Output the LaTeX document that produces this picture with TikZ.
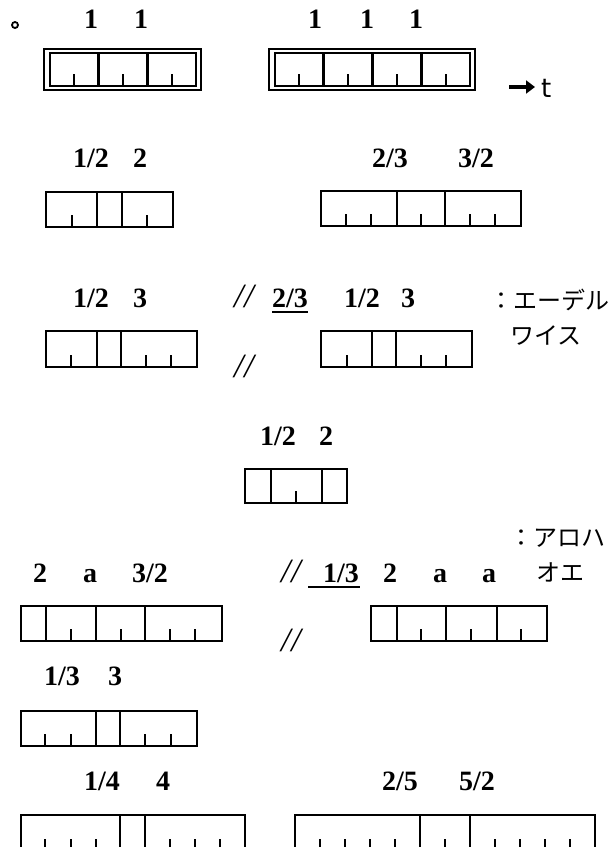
\documentclass[tikz,border=0pt]{standalone}
\usepackage{fontspec}
\setmainfont{Liberation Serif}
\newfontfamily\jpfont{Noto Sans CJK JP}
\newfontfamily\dvfont{DejaVu Sans}
\usetikzlibrary{arrows.meta}
% #1 name, #2 x0, #3 y0, #4 x1, #5 y1, #6 dividers, #7 ticks
\newcommand\gridbox[7]{%
  \node[boxframe, minimum width={(#4-#2)*1pt}, minimum height={(#5-#3)*1pt}] (#1) at ({(#2+#4)/2},{(#3+#5)/2}) {};
  \foreach \d in {#6} {\draw[boxline] (\d,#3) -- (\d,#5);}
  \foreach \t in {#7} {\draw[boxline] (\t,#5) -- (\t,{#5-11});}
}
\tikzset{
  boxline/.style={line width=2.7pt, line cap=rect},
  boxframe/.style={draw, line width=2.7pt, inner sep=0pt, rectangle},
  lab/.style={font=\fontsize{28}{32}\selectfont\bfseries, anchor=base, inner sep=0pt},
  slash/.style={font=\fontsize{34}{38}\selectfont\itshape, anchor=base, inner sep=0pt},
  jp/.style={font=\fontsize{24}{28}\selectfont\jpfont, anchor=base west, inner sep=0pt},
  ulin/.style={line width=1.8pt},
  heavyarrow/.style={line width=4.5pt, -{Triangle[length=9pt,width=13pt]}}
}
\begin{document}
\begin{tikzpicture}[x=1pt,y=-1pt]
\useasboundingbox (0,0) rectangle (609,847);
\clip (0,0) rectangle (609,847);
\fill[white] (0,0) rectangle (609,847);

% row 1
\draw[line width=1.8pt] (15,25) circle (3);
\node[lab] (r1a) at (91,28) {1};
\node[lab] (r1b) at (141,28) {1};
\node[boxframe, minimum width=157pt, minimum height=41pt] (b1out) at (122.5,69.5) {};
\gridbox{b1}{50}{53}{196}{86}{98.7,147.3}{74,123,172}
\node[lab] (r1c) at (315,28) {1};
\node[lab] (r1d) at (367,28) {1};
\node[lab] (r1e) at (416,28) {1};
\node[boxframe, minimum width=206pt, minimum height=41pt] (b2out) at (372,69.5) {};
\gridbox{b2}{275}{53}{470}{86}{323.75,372.5,421.25}{299,348,397,446}
\coordinate (arrs) at (509,87);
\coordinate (arre) at (535,87);
\draw[heavyarrow] (arrs) -- (arre);
\node[font=\fontsize{26}{30}\selectfont\dvfont, anchor=base west, inner sep=0pt] (tt) at (541,97) {t};

% row 2
\node[lab] (r2a) at (91,167) {1/2};
\node[lab] (r2b) at (140,167) {2};
\gridbox{b3}{46}{192}{173}{227}{97,122}{72,147}
\node[lab] (r2c) at (390,167) {2/3};
\node[lab] (r2d) at (476,167) {3/2};
\gridbox{b4}{321}{191}{521}{226}{397,445}{346,371,421,470,495}

% row 3
\node[lab] (r3a) at (91,307) {1/2};
\node[lab] (r3b) at (140,307) {3};
\gridbox{b5}{46}{331}{197}{367}{97,121}{71,146,171}
\node[slash] (s1) at (244,307) {/\kern1pt/};
\node[slash] (s2) at (244,377) {/\kern1pt/};
\node[lab] (u1) at (290,307) {2/3};
\draw[ulin] (272,312) -- (308,312);
\node[lab] (r3c) at (362,307) {1/2};
\node[lab] (r3d) at (408,307) {3};
\gridbox{b6}{321}{331}{472}{367}{372,396}{347,421,446}
\node[jp] (j1) at (489,309) {：エーデル};
\node[jp] (j2) at (510,344) {ワイス};

% row 4
\node[lab] (r4a) at (278,445) {1/2};
\node[lab] (r4b) at (326,445) {2};
\gridbox{b7}{245}{469}{347}{503}{271,322}{296}

% row 5
\node[jp] (j3) at (509,546) {：アロハ};
\node[lab] (r5a) at (40,582) {2};
\node[lab] (r5b) at (90,582) {a};
\node[lab] (r5c) at (150,582) {3/2};
\node[slash] (s3) at (291,582) {/\kern1pt/};
\node[lab] (u2) at (341,582) {1/3};
\draw[ulin] (308,587) -- (360,587);
\node[lab] (r5d) at (390,582) {2};
\node[lab] (r5e) at (440,582) {a};
\node[lab] (r5f) at (489,582) {a};
\node[jp] (j4) at (536,581) {オエ};
\gridbox{b8}{21}{606}{222}{641}{46,96,145}{71,121,170,195}
\node[slash] (s4) at (291,651) {/\kern1pt/};
\gridbox{b9}{371}{606}{547}{641}{397,446,497}{421,471,521}

% row 6
\node[lab] (r6a) at (62,685) {1/3};
\node[lab] (r6b) at (115,685) {3};
\gridbox{b10}{21}{711}{197}{746}{96,120}{45,71,145,171}

% row 7
\node[lab] (r7a) at (102,790) {1/4};
\node[lab] (r7b) at (163,790) {4};
\gridbox{b11}{21}{815}{245}{851}{120,145}{45,71,96,170,195,220}
\node[lab] (r7c) at (400,790) {2/5};
\node[lab] (r7d) at (477,790) {5/2};
\gridbox{b12}{295}{815}{595}{851}{420,470}{320,345,370,395,445,495,520,545,570}
\end{tikzpicture}
\end{document}
